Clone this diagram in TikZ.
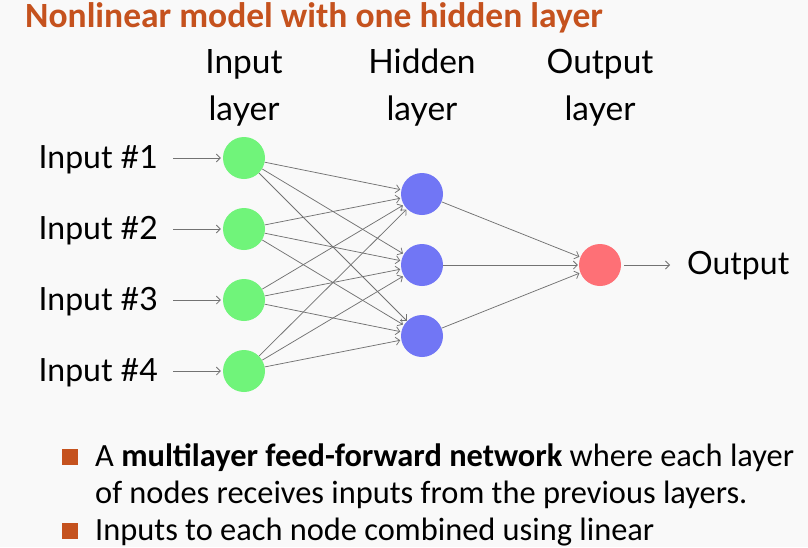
\documentclass[tikz,border=0pt]{standalone}
\usepackage{fontspec}
\setmainfont{Lato}
\newfontfamily\carlito{Carlito}
\usetikzlibrary{arrows.meta}
\definecolor{bg}{RGB}{249,249,249}
\definecolor{titleor}{RGB}{197,82,30}
\definecolor{ingreen}{RGB}{112,244,122}
\definecolor{hidblue}{RGB}{113,118,245}
\definecolor{outred}{RGB}{254,112,118}
\definecolor{edgegray}{RGB}{115,115,115}
\tikzset{
  neuron/.style={circle,minimum size=42pt,inner sep=0pt,draw=none},
  inneuron/.style={neuron,fill=ingreen},
  hidneuron/.style={neuron,fill=hidblue},
  outneuron/.style={neuron,fill=outred},
  conn/.style={draw=edgegray,line width=0.75pt,-{Straight Barb[length=4pt,width=8pt]}},
  lbl/.style={inner sep=0pt,font=\fontsize{32}{38}\selectfont},
  hdr/.style={inner sep=0pt,align=center,font=\fontsize{33.5}{47}\selectfont},
  bul/.style={fill=titleor,minimum size=16pt,inner sep=0pt},
  bultext/.style={inner sep=0pt,align=left,font=\carlito\fontsize{32.4}{37}\selectfont},
}
\begin{document}
\begin{tikzpicture}[x=1pt,y=-1pt]
\useasboundingbox[fill=bg] (0,0) rectangle (808,547);
% title
\node[anchor=base west,inner sep=0pt,text=titleor,font=\carlito\fontsize{35.5}{40}\selectfont\bfseries] (title) at (25,27) {Nonlinear model with one hidden layer};
% headers
\node[hdr,anchor=base] (hin) at (244,120) {Input\\layer};
\node[hdr,anchor=base] (hhid) at (422,120) {Hidden\\layer};
\node[hdr,anchor=base] (hout) at (600,120) {Output\\layer};
% neurons
\node[inneuron] (i1) at (244,158) {};
\node[inneuron] (i2) at (244,229) {};
\node[inneuron] (i3) at (244,300) {};
\node[inneuron] (i4) at (244,371) {};
\node[hidneuron] (h1) at (422,194) {};
\node[hidneuron] (h2) at (422,265) {};
\node[hidneuron] (h3) at (422,336) {};
\node[outneuron] (o) at (600,265) {};
% labels
\node[lbl,anchor=base east] (l1) at (158,168) {Input \#1};
\node[lbl,anchor=base east] (l2) at (158,239) {Input \#2};
\node[lbl,anchor=base east] (l3) at (158,310) {Input \#3};
\node[lbl,anchor=base east] (l4) at (158,381) {Input \#4};
\node[lbl,anchor=base west] (ol) at (687,274) {Output};
% input arrows
\foreach \k in {1,2,3,4}{
  \draw[conn,shorten >=2pt] ([xshift=15pt]l\k.east |- i\k) -- (i\k);
}
% input to hidden
\foreach \a in {1,2,3,4}{
  \foreach \b in {1,2,3}{
    \draw[conn,shorten >=1pt] (i\a) -- (h\b);
  }
}
% hidden to output
\foreach \b in {1,2,3}{
  \draw[conn,shorten >=1pt] (h\b) -- (o);
}
\draw[conn,shorten <=3pt] (o) -- ([xshift=-17pt]ol.west |- o);
% bullets
\node[bul] (b1) at (69.5,457) {};
\node[bul] (b2) at (69.5,531) {};
\node[bultext,anchor=base west] (t1) at (95,503) {A \textbf{multilayer feed-forward network} where each layer\\of nodes receives inputs from the previous layers.};
\node[bultext,anchor=base west] (t2) at (95,540) {Inputs to each node combined using linear};
\end{tikzpicture}
\end{document}
